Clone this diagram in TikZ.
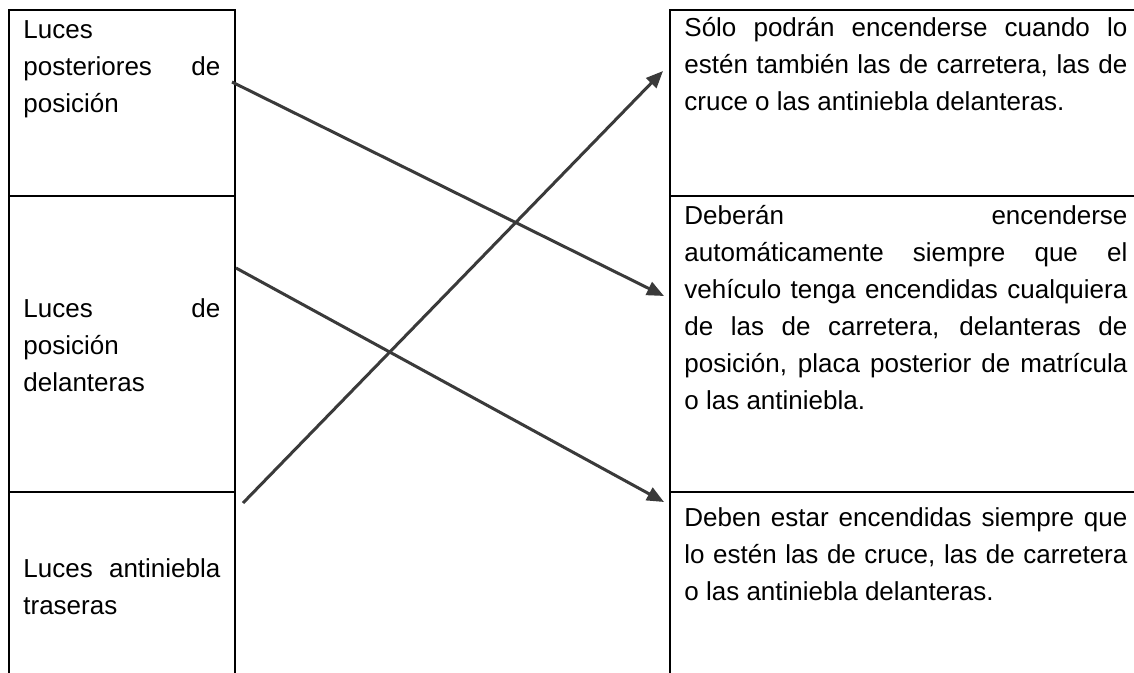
\documentclass[tikz,border=0pt]{standalone}
\usepackage{fontspec}
\setmainfont{Liberation Sans}
\usetikzlibrary{arrows.meta}
\definecolor{ink}{HTML}{000000}
\definecolor{rule}{HTML}{000000}
\definecolor{arrowink}{HTML}{3A3A3A}
\newcommand{\cellfont}{\fontsize{13}{18.5}\selectfont}
\tikzset{
  lefttext/.style={anchor=base west, inner sep=0pt, text width=98.5pt, align=justify, font=\cellfont, text=ink},
  righttext/.style={lefttext, text width=221.5pt},
  tablerule/.style={draw=rule, line width=1pt},
  matcharrow/.style={draw=arrowink, line width=1.5pt, -{Triangle[length=8.5pt,width=7pt]}}
}
\tolerance=10000
\hbadness=10000
\begin{document}
\begin{tikzpicture}[x=0.5pt,y=-0.5pt]
  \useasboundingbox (0,0) rectangle (1134,673);
  \fill[white] (0,0) rectangle (1134,673);

  % Left column: the lights.
  \draw[tablerule] (9,673) -- (9,10) -- (235,10) -- (235,673);
  \foreach \yy in {196,492} {
    \draw[tablerule] (9,\yy) -- (235,\yy);
  }
  \node[lefttext] (l1) at (23,39) {Luces\linebreak posteriores de\linebreak posición};
  \node[lefttext] (l2) at (23,318) {Luces de\linebreak posición\linebreak delanteras};
  \node[lefttext] (l3) at (23,577) {Luces antiniebla\linebreak traseras};

  % Right column: when they are lit.
  \draw[tablerule] (1134,10) -- (670,10) -- (670,673);
  \foreach \yy in {196,492} {
    \draw[tablerule] (670,\yy) -- (1134,\yy);
  }
  \node[righttext] (r1) at (684,37) {Sólo podrán encenderse cuando lo\linebreak estén también las de carretera, las de\linebreak cruce o las antiniebla delanteras.};
  \node[righttext] (r2) at (684,225) {Deberán encenderse\linebreak automáticamente siempre que el\linebreak vehículo tenga encendidas cualquiera\linebreak de las de carretera, delanteras de\linebreak posición, placa posterior de matrícula\linebreak o las antiniebla.};
  \node[righttext] (r3) at (684,526) {Deben estar encendidas siempre que\linebreak lo estén las de cruce, las de carretera\linebreak o las antiniebla delanteras.};

  % Matching arrows.
  \coordinate (l1out) at (232,82);
  \coordinate (l2out) at (236,268);
  \coordinate (l3out) at (243,503);
  \coordinate (r1in) at (663,71);
  \coordinate (r2in) at (664,296);
  \coordinate (r3in) at (664,502);
  \draw[matcharrow] (l1out) -- (r2in);
  \draw[matcharrow] (l2out) -- (r3in);
  \draw[matcharrow] (l3out) -- (r1in);
\end{tikzpicture}
\end{document}
